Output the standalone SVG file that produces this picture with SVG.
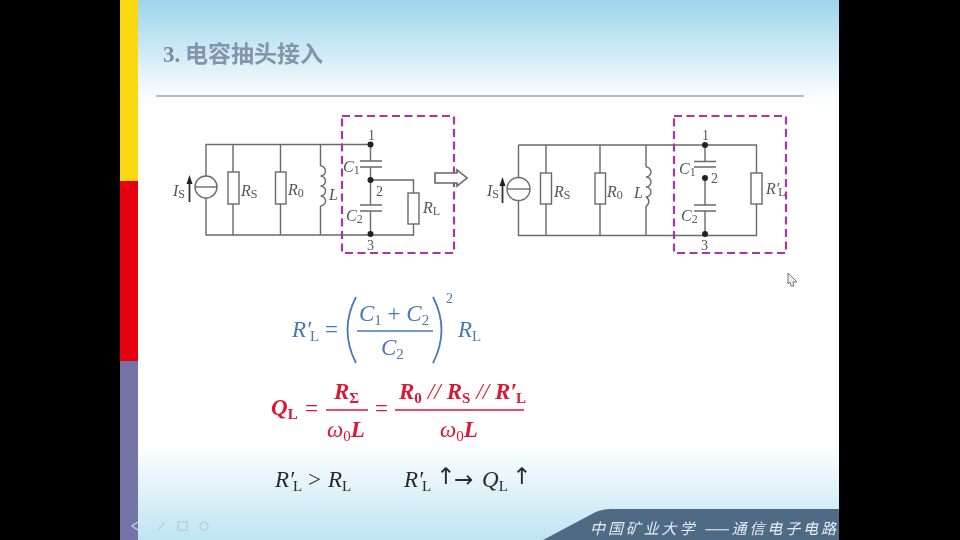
<svg xmlns="http://www.w3.org/2000/svg" width="960" height="540" viewBox="0 0 960 540">
<style>
.w{fill:none;stroke:#6a6a6a;stroke-width:1.4}
.r{fill:#fff;stroke:#6a6a6a;stroke-width:1.4}
.d{fill:#222}
.b{fill:none;stroke:#b030a8;stroke-width:2.2;stroke-dasharray:8 4.5}
text{font-family:"Liberation Serif","Noto Sans CJK SC",serif}
.t{font-size:16px;font-style:italic;fill:#555}
.s{font-size:12px;font-style:normal;fill:#555}
.n{font-size:14px;fill:#555}
.f{font-size:23px;font-style:italic}
.fs{font-size:15px;font-style:normal}
.blue{fill:#4a78b8}
.red{fill:#dd1535;font-weight:bold}
.blk{fill:#2a2a2a}
.ar{font-family:"DejaVu Sans",sans-serif;font-size:23px}
</style>
<defs>
<linearGradient id="bg" x1="0" y1="0" x2="0" y2="1">
<stop offset="0" stop-color="#9cd5ec"/><stop offset="0.18" stop-color="#fbfdfe"/><stop offset="0.2" stop-color="#ffffff"/><stop offset="0.82" stop-color="#ffffff"/><stop offset="1" stop-color="#bfe4f2"/>
</linearGradient>
<filter id="soft" x="-5%" y="-5%" width="110%" height="110%"><feGaussianBlur stdDeviation="0.45"/></filter>
</defs>
<rect width="960" height="540" fill="#000"/>
<rect x="120" width="719" height="540" fill="url(#bg)"/>
<rect x="120" width="18" height="181" fill="#fbd910"/>
<rect x="120" y="181" width="18" height="180" fill="#e60012"/>
<rect x="120" y="361" width="18" height="179" fill="#7474a6"/>
<g filter="url(#soft)">
<g id="title">
<text x="163" y="62" font-size="23" font-weight="bold" fill="#7a8ca4">3.</text>
<text x="185" y="62" font-size="23" font-weight="bold" fill="#8494aa">电容抽头接入</text>
<line x1="156" y1="96" x2="804" y2="96" stroke="#a3a3c0" stroke-width="1.6"/>
</g>
<g id="connectors">
<path class="w" d="M370.500 144.500H206V176M206 198V235H413.500V224M413.500 193V180H370.500M233 144.500V172M233 204V235M280.500 144.500V172M280.500 204V235M320.500 144.500V166M320.500 206V235M370.500 144.500V161M370.500 167V205M370.500 211V235"/>
<path class="w" d="M518.500 145H756.500V173M756.500 204V235.500H518.500V200M518.500 178V145M546 145V173M546 204V235.500M600 145V173M600 204V235.500M646 145V167M646 206V235.500M705 145V161.500M705 178V205M705 211V235.500"/>
<path class="w" d="M360 161H382M360 167H382M360 205H382M360 211H382M694 161.500H716M694 167H716M694 205H716M694 211H716"/>
</g>
<g id="source-left"><circle class="r" cx="206" cy="187" r="11"/><line class="w" x1="195" y1="187" x2="217" y2="187"/><path d="M189.500 202V182" stroke="#333" stroke-width="1.8"/><path d="M186.500 184L189.500 175L192.500 184Z" fill="#222"/></g>
<g id="rs-left"><rect class="r" x="228" y="172" width="11" height="32"/></g>
<g id="r0-left"><rect class="r" x="275.500" y="172" width="10.500" height="32"/></g>
<g id="l-left"><path class="w" d="M320.500 166a5 5 0 0 1 0 10a5 5 0 0 1 0 10a5 5 0 0 1 0 10a5 5 0 0 1 0 10"/></g>
<g id="rl-left"><rect class="r" x="408" y="193" width="11" height="31"/></g>
<g id="nodes-left"><circle class="d" cx="370.500" cy="144.500" r="3"/><circle class="d" cx="370.500" cy="180" r="3"/><circle class="d" cx="370.500" cy="234" r="3"/></g>
<g id="box-left"><rect class="b" x="342" y="116" width="112" height="137"/></g>
<g id="hollow-arrow"><path d="M435 173H457V170L467 178L457 186V183H435Z" fill="#fff" stroke="#666" stroke-width="1.6"/></g>
<g id="labels-left">
<text class="t" x="173" y="196">I<tspan class="s" dy="2">S</tspan></text>
<text class="t" x="241" y="196">R<tspan class="s" dy="2">S</tspan></text>
<text class="t" x="288" y="195">R<tspan class="s" dy="2">0</tspan></text>
<text class="t" x="329" y="200">L</text>
<text class="t" x="343" y="172">C<tspan class="s" dy="2">1</tspan></text>
<text class="t" x="346" y="221">C<tspan class="s" dy="2">2</tspan></text>
<text class="t" x="423" y="213">R<tspan class="s" dy="2">L</tspan></text>
<text class="n" x="368" y="140">1</text>
<text class="n" x="376" y="196">2</text>
<text class="n" x="367" y="250">3</text>
</g>
<g id="source-right"><circle class="r" cx="518.500" cy="189" r="11.500"/><line class="w" x1="507" y1="189" x2="530" y2="189"/><path d="M502.500 203V184" stroke="#333" stroke-width="1.8"/><path d="M499.500 186L502.500 177L505.500 186Z" fill="#222"/></g>
<g id="rs-right"><rect class="r" x="540.500" y="173" width="11" height="31"/></g>
<g id="r0-right"><rect class="r" x="595" y="173" width="10.500" height="31"/></g>
<g id="l-right"><path class="w" d="M646 167a5 5 0 0 1 0 10a5 5 0 0 1 0 10a5 5 0 0 1 0 10a5 5 0 0 1 0 9"/></g>
<g id="rl-right"><rect class="r" x="751" y="173" width="11" height="31"/></g>
<g id="nodes-right"><circle class="d" cx="705" cy="145" r="3"/><circle class="d" cx="705" cy="178" r="3"/><circle class="d" cx="705" cy="234" r="3"/></g>
<g id="box-right"><rect class="b" x="674" y="116" width="112" height="137"/></g>
<g id="labels-right">
<text class="t" x="487" y="196">I<tspan class="s" dy="2">S</tspan></text>
<text class="t" x="554" y="197">R<tspan class="s" dy="2">S</tspan></text>
<text class="t" x="607" y="197">R<tspan class="s" dy="2">0</tspan></text>
<text class="t" x="634" y="198">L</text>
<text class="t" x="679" y="174">C<tspan class="s" dy="2">1</tspan></text>
<text class="t" x="681" y="221">C<tspan class="s" dy="2">2</tspan></text>
<text class="t" x="766" y="194">R′<tspan class="s" dy="2" dx="-1">L</tspan></text>
<text class="n" x="702" y="140">1</text>
<text class="n" x="711" y="183">2</text>
<text class="n" x="701" y="250">3</text>
</g>
<g id="cursor"><path d="M788 273L797 282L793 282L794 286L791 286L790 282L788 284Z" fill="#eee" stroke="#777"/></g>
<g id="formula-blue">
<text class="f blue" x="292" y="337">R′<tspan class="fs" dx="-1" dy="4">L</tspan></text>
<text class="f blue" x="325" y="337" style="font-style:normal">=</text>
<path d="M356 297Q339 330 356 363M433 297Q450 330 433 363" fill="none" stroke="#4a78b8" stroke-width="1.800"/>
<text class="f blue" x="359" y="321">C<tspan class="fs" dy="4">1</tspan><tspan dy="-4" style="font-style:normal"> + </tspan>C<tspan class="fs" dy="4">2</tspan></text>
<line x1="357" y1="331" x2="433" y2="331" stroke="#4a78b8" stroke-width="1.400"/>
<text class="f blue" x="381" y="355">C<tspan class="fs" dy="4">2</tspan></text>
<text class="blue" x="446" y="303" font-size="14">2</text>
<text class="f blue" x="458" y="337">R<tspan class="fs" dy="4">L</tspan></text>
</g>
<g id="formula-red">
<text class="f red" x="271" y="415">Q<tspan class="fs" dy="4">L</tspan></text>
<text class="f red" x="305" y="416" style="font-style:normal;font-weight:normal">=</text>
<text class="f red" x="334" y="399">R<tspan class="fs" dy="4">Σ</tspan></text>
<line x1="326" y1="410" x2="368" y2="410" stroke="#dd1535" stroke-width="1.500"/>
<text class="f red" x="327" y="437" style="font-weight:normal">ω<tspan class="fs" dy="4">0</tspan><tspan dy="-4" style="font-weight:bold">L</tspan></text>
<text class="f red" x="375" y="416" style="font-style:normal;font-weight:normal">=</text>
<text class="f red" x="399" y="399">R<tspan class="fs" dy="4">0</tspan><tspan dy="-4" dx="6" style="font-weight:normal">//</tspan><tspan dx="6">R</tspan><tspan class="fs" dy="4">S</tspan><tspan dy="-4" dx="6" style="font-weight:normal">//</tspan><tspan dx="6">R′</tspan><tspan class="fs" dy="4" dx="-1">L</tspan></text>
<line x1="395" y1="410" x2="524" y2="410" stroke="#dd1535" stroke-width="1.500"/>
<text class="f red" x="440" y="437" style="font-weight:normal">ω<tspan class="fs" dy="4">0</tspan><tspan dy="-4" style="font-weight:bold">L</tspan></text>
</g>
<g id="formula-black">
<text class="f blk" x="275" y="487">R′<tspan class="fs" dx="-1" dy="4">L</tspan></text>
<text class="f blk" x="308" y="487" style="font-style:normal">&gt;</text>
<text class="f blk" x="328" y="487">R<tspan class="fs" dy="4">L</tspan></text>
<text class="f blk" x="404" y="487">R′<tspan class="fs" dx="-1" dy="4">L</tspan></text>
<text class="ar blk" x="436" y="484">↑</text>
<text class="ar blk" x="454" y="487">→</text>
<text class="f blk" x="482" y="487">Q<tspan class="fs" dy="4">L</tspan></text>
<text class="ar blk" x="512" y="484">↑</text>
</g>
<g id="footer">
<path d="M543 540L592 514Q600 509 612 509H839V540Z" fill="#4f6a85"/>
<text x="590" y="534" font-size="15" fill="#e4edf4" style="font-family:'Noto Sans CJK SC',sans-serif;font-style:italic" textLength="246">中国矿业大学 ——通信电子电路</text>
</g>
<g id="nav" fill="none" stroke="#bcd0dc" stroke-width="1.500">
<path d="M138 522L132 526L138 530M158 530L165 522M178 522H187V530H178ZM204 522a4 4 0 1 0 .1 0"/>
</g>
</g>
</svg>
